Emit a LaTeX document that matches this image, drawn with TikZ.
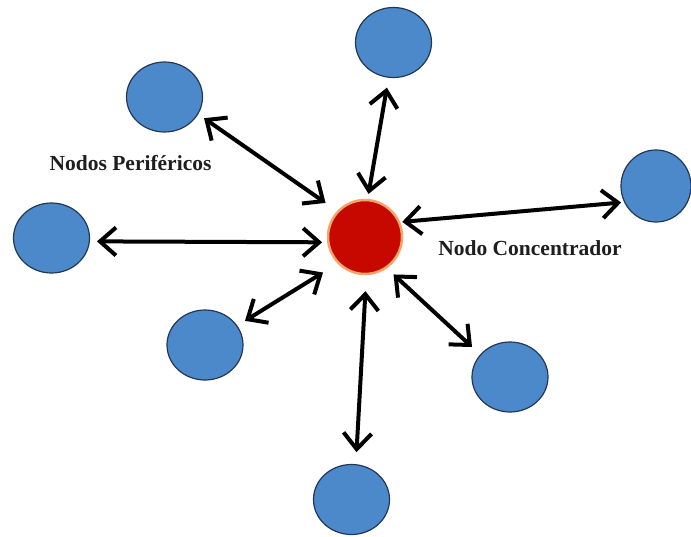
\documentclass[tikz,border=0pt]{standalone}
\usepackage{fontspec}
\setmainfont{Liberation Serif}
\usetikzlibrary{arrows.meta,shapes.geometric}
\definecolor{nodeblue}{RGB}{76,137,203}
\definecolor{nodeedge}{RGB}{35,55,85}
\definecolor{hubred}{RGB}{198,8,0}
\definecolor{hubglow}{RGB}{245,165,105}
\definecolor{labelgray}{RGB}{30,30,30}
\tikzset{
  periph/.style={ellipse, draw=nodeedge, line width=1.2pt, fill=nodeblue,
    minimum width=76pt, minimum height=70pt, inner sep=0pt},
  hub/.style={ellipse, draw=hubglow, line width=2.5pt, fill=hubred,
    minimum width=74pt, minimum height=74pt, inner sep=0pt},
  link/.style={line width=4pt, black,
    {Straight Barb[length=16pt,width=28pt,line width=4pt]}-{Straight Barb[length=16pt,width=28pt,line width=4pt]}},
  lbl/.style={font=\fontsize{21.5}{24}\selectfont\bfseries, text=labelgray, inner sep=0pt}
}
\begin{document}
\begin{tikzpicture}[x=1pt,y=-1pt]
\useasboundingbox (0,0) rectangle (691,536);
\node[hub] (c) at (365,237) {};
\node[periph] (p1) at (393.5,42.5) {};
\node[periph] (p2) at (164.5,97) {};
\node[periph, minimum width=70pt, minimum height=72pt] (p3) at (656,186) {};
\node[periph] (p4) at (51.5,238) {};
\node[periph] (p5) at (205,345) {};
\node[periph] (p6) at (510,377) {};
\node[periph] (p7) at (351.5,499.5) {};
\draw[link, shorten <=7pt, shorten >=14pt] (p2.-27) -- (c.137);
\draw[link, shorten <=10pt, shorten >=5pt] (p1.262) -- (c.86);
\draw[link, shorten <=2pt, shorten >=3pt] (c.23) -- (p3.207);
\draw[link, shorten <=7pt, shorten >=5pt] (p4.-5) -- (c.188);
\draw[link, shorten <=9pt, shorten >=17pt] (p5.31) -- (c.224);
\draw[link, shorten <=16pt, shorten >=12pt] (c.-88) -- (p7.83);
\draw[link, shorten <=9pt, shorten >=11pt] (c.-55) -- (p6.143);
\node[lbl] (l1) at (130.5,163) {Nodos Periféricos};
\node[lbl] (l2) at (530,248) {Nodo Concentrador};
\end{tikzpicture}
\end{document}
